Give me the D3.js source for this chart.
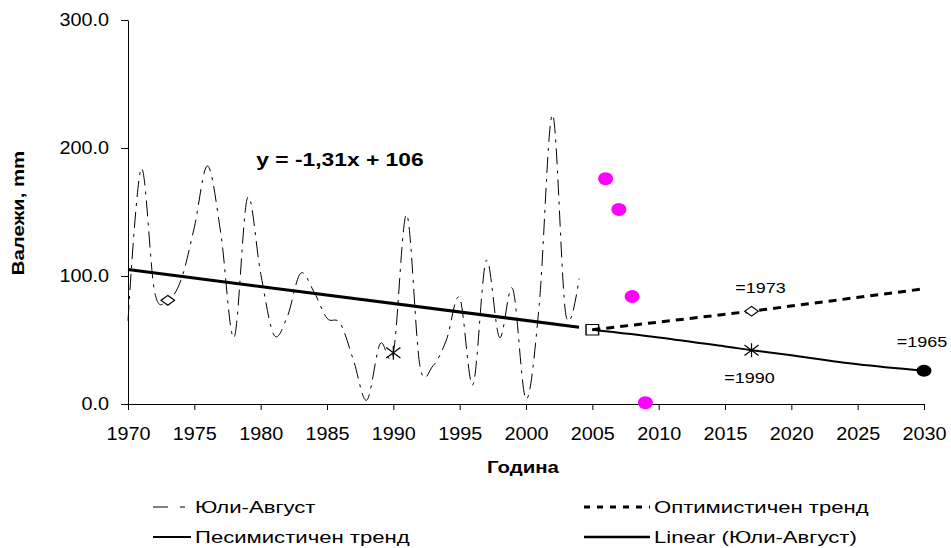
<!DOCTYPE html>
<html>
<head>
<meta charset="utf-8">
<script src="https://cdn.jsdelivr.net/npm/d3@7"></script>
<style>
  body { margin: 0; background: #fff; }
  svg { display: block; }
  text { font-family: "Liberation Sans", Arial, sans-serif; fill: #000; }
</style>
</head>
<body>
<div id="chart"></div>
<script>
// July-August precipitation, 1970-2004, with trend scenarios to 2030

const YEARS = [1970, 1971, 1972, 1973, 1974, 1975, 1976, 1977, 1978, 1979,
               1980, 1981, 1982, 1983, 1984, 1985, 1986, 1987, 1988, 1989,
               1990, 1991, 1992, 1993, 1994, 1995, 1996, 1997, 1998, 1999,
               2000, 2001, 2002, 2003, 2004];
const JULY_AUG = [65, 184, 88, 81, 97, 138, 186, 133, 52, 161,
                  102, 54, 68, 102, 88, 67, 63, 34, 3, 47,
                  40, 148, 30, 30, 50, 83, 15, 112, 52, 90,
                  4, 78, 226, 70, 98];

const LINEAR_YEARS  = [1970, 2004];
const LINEAR_VALUES = [105, 60];

const PESS_YEARS  = [2005, 2010, 2015, 2017, 2020, 2025, 2030];
const PESS_VALUES = [58, 52, 45, 42, 38, 31, 26];

const OPT_YEARS  = [2005, 2010, 2017, 2030];
const OPT_VALUES = [58, 64, 72.5, 90];

const DOT_YEARS  = [2006, 2007, 2008, 2009];
const DOT_VALUES = [176, 152, 84, 1];

// analog-year markers: [year, value]
const DIAMONDS  = [[1973, 81], [2017, 72.5]];
const ASTERISKS = [[1990, 40], [2017, 42]];
const SQUARES   = [[2005, 58]];
const CIRCLES   = [[2030, 26]];
const NOTES = [
  { year: 2017, value: 72.5, text: '=1973', dx: 9,  dy: -18 },
  { year: 2017, value: 42,   text: '=1990', dx: -2, dy: 33 },
  { year: 2030, value: 26,   text: '=1965', dx: -2, dy: -24 },
];

const X_TICKS = [1970, 1975, 1980, 1985, 1990, 1995, 2000, 2005, 2010, 2015, 2020, 2025, 2030];
const Y_TICKS = [0, 100, 200, 300];
const EQUATION = 'y = -1,31x + 106';

const W = 951, H = 548;
const STRETCH = 1.2;   // glyphs in the source are drawn a bit wide

const svg = d3.select('#chart').append('svg')
  .attr('width', W).attr('height', H);

const x = d3.scaleLinear().domain([1970, 2030]).range([128, 924]);
const y = d3.scaleLinear().domain([0, 300]).range([404, 20]);

function widen(sel, k = STRETCH) {
  sel.each(function() {
    const w = this.getComputedTextLength();
    this.setAttribute('textLength', w * k);
    this.setAttribute('lengthAdjust', 'spacingAndGlyphs');
  });
}

// axes
const yAxis = svg.append('g')
  .attr('transform', 'translate(128,0)')
  .call(d3.axisLeft(y).tickValues(Y_TICKS).tickFormat(d3.format('.1f'))
    .tickSize(7).tickSizeOuter(0).tickPadding(12));
yAxis.selectAll('text').attr('font-size', 18).attr('font-family', null);

const xAxis = svg.append('g')
  .attr('transform', 'translate(0,404)')
  .call(d3.axisBottom(x).tickValues(X_TICKS).tickFormat(d3.format('d'))
    .tickSize(6).tickSizeOuter(0).tickPadding(17));
xAxis.selectAll('text').attr('font-size', 18).attr('font-family', null);

svg.selectAll('.domain, .tick line').attr('stroke', '#000');
svg.selectAll('.tick text').call(widen, 1.1);

svg.append('text')
  .attr('x', 523).attr('y', 473)
  .attr('text-anchor', 'middle')
  .attr('font-size', 17).attr('font-weight', 'bold')
  .text('Година')
  .call(widen);

svg.append('text')
  .attr('transform', 'translate(24,213) rotate(-90)')
  .attr('text-anchor', 'middle')
  .attr('font-size', 17).attr('font-weight', 'bold')
  .text('Валежи, mm')
  .call(widen);

// lines
const smooth = d3.line()
  .x(d => x(d[0])).y(d => y(d[1]))
  .curve(d3.curveCardinal.tension(0));
const straight = d3.line().x(d => x(d[0])).y(d => y(d[1]));

svg.append('path')
  .datum(d3.zip(YEARS, JULY_AUG))
  .attr('d', smooth)
  .attr('fill', 'none').attr('stroke', '#000').attr('stroke-width', 1)
  .attr('stroke-dasharray', '16,6,3,6');

svg.append('path')
  .datum(d3.zip(LINEAR_YEARS, LINEAR_VALUES))
  .attr('d', straight)
  .attr('fill', 'none').attr('stroke', '#000').attr('stroke-width', 3);

svg.append('path')
  .datum(d3.zip(PESS_YEARS, PESS_VALUES))
  .attr('d', smooth)
  .attr('fill', 'none').attr('stroke', '#000').attr('stroke-width', 2);

svg.append('path')
  .datum(d3.zip(OPT_YEARS, OPT_VALUES))
  .attr('d', straight)
  .attr('fill', 'none').attr('stroke', '#000').attr('stroke-width', 3)
  .attr('stroke-dasharray', '8,6');

// markers
const asterisk = {
  draw(ctx, size) {
    const r = Math.sqrt(size) / 2;
    ctx.moveTo(-r, -r * 0.75); ctx.lineTo(r, r * 0.75);
    ctx.moveTo(-r, r * 0.75); ctx.lineTo(r, -r * 0.75);
    ctx.moveTo(0, -r); ctx.lineTo(0, r);
  }
};

svg.selectAll('.diamond')
  .data(DIAMONDS).join('path')
  .attr('class', 'diamond')
  .attr('transform', d => `translate(${x(d[0])},${y(d[1])}) scale(1.4,1)`)
  .attr('d', d3.symbol(d3.symbolDiamond2, 60))
  .attr('fill', '#fff').attr('stroke', '#000').attr('stroke-width', 1);

svg.selectAll('.asterisk')
  .data(ASTERISKS).join('path')
  .attr('class', 'asterisk')
  .attr('transform', d => `translate(${x(d[0])},${y(d[1])})`)
  .attr('d', d3.symbol(asterisk, 200))
  .attr('fill', 'none').attr('stroke', '#000').attr('stroke-width', 1.2);

svg.selectAll('.square')
  .data(SQUARES).join('path')
  .attr('class', 'square')
  .attr('transform', d => `translate(${x(d[0])},${y(d[1])}) scale(1.2,1)`)
  .attr('d', d3.symbol(d3.symbolSquare, 110))
  .attr('fill', 'none').attr('stroke', '#000').attr('stroke-width', 1.2);

svg.selectAll('.circle')
  .data(CIRCLES).join('ellipse')
  .attr('class', 'circle')
  .attr('cx', d => x(d[0])).attr('cy', d => y(d[1]))
  .attr('rx', 7.5).attr('ry', 6)
  .attr('fill', '#000');

svg.selectAll('.dot')
  .data(d3.zip(DOT_YEARS, DOT_VALUES)).join('ellipse')
  .attr('class', 'dot')
  .attr('cx', d => x(d[0])).attr('cy', d => y(d[1]))
  .attr('rx', 7.5).attr('ry', 6.5)
  .attr('fill', '#ff00ff');

svg.selectAll('.note')
  .data(NOTES).join('text')
  .attr('class', 'note')
  .attr('x', d => x(d.year) + d.dx).attr('y', d => y(d.value) + d.dy)
  .attr('text-anchor', 'middle')
  .attr('font-size', 15)
  .text(d => d.text)
  .call(widen);

svg.append('text')
  .attr('x', 340).attr('y', 166)
  .attr('text-anchor', 'middle')
  .attr('font-size', 19).attr('font-weight', 'bold')
  .text(EQUATION)
  .call(widen);

// legend
const LEGEND = [
  { label: 'Юли-Август',          col: 0, row: 0, width: 1, dash: '15,12,5,40' },
  { label: 'Оптимистичен тренд',  col: 1, row: 0, width: 3, dash: '6,7' },
  { label: 'Песимистичен тренд',  col: 0, row: 1, width: 2, dash: null },
  { label: 'Linear (Юли-Август)', col: 1, row: 1, width: 2.5, dash: null },
];
const colX = [153, 584], sampleW = [38, 66], rowY = [507, 537];

const items = svg.append('g').selectAll('g')
  .data(LEGEND).join('g')
  .attr('transform', d => `translate(${colX[d.col]},${rowY[d.row]})`);

items.append('line')
  .attr('x1', 0).attr('x2', d => sampleW[d.col])
  .attr('stroke', '#000')
  .attr('stroke-width', d => d.width)
  .attr('stroke-dasharray', d => d.dash);

items.append('text')
  .attr('x', d => sampleW[d.col] + 4).attr('y', 6)
  .attr('font-size', 17)
  .text(d => d.label)
  .call(widen, 1.3);
</script>
</body>
</html>
